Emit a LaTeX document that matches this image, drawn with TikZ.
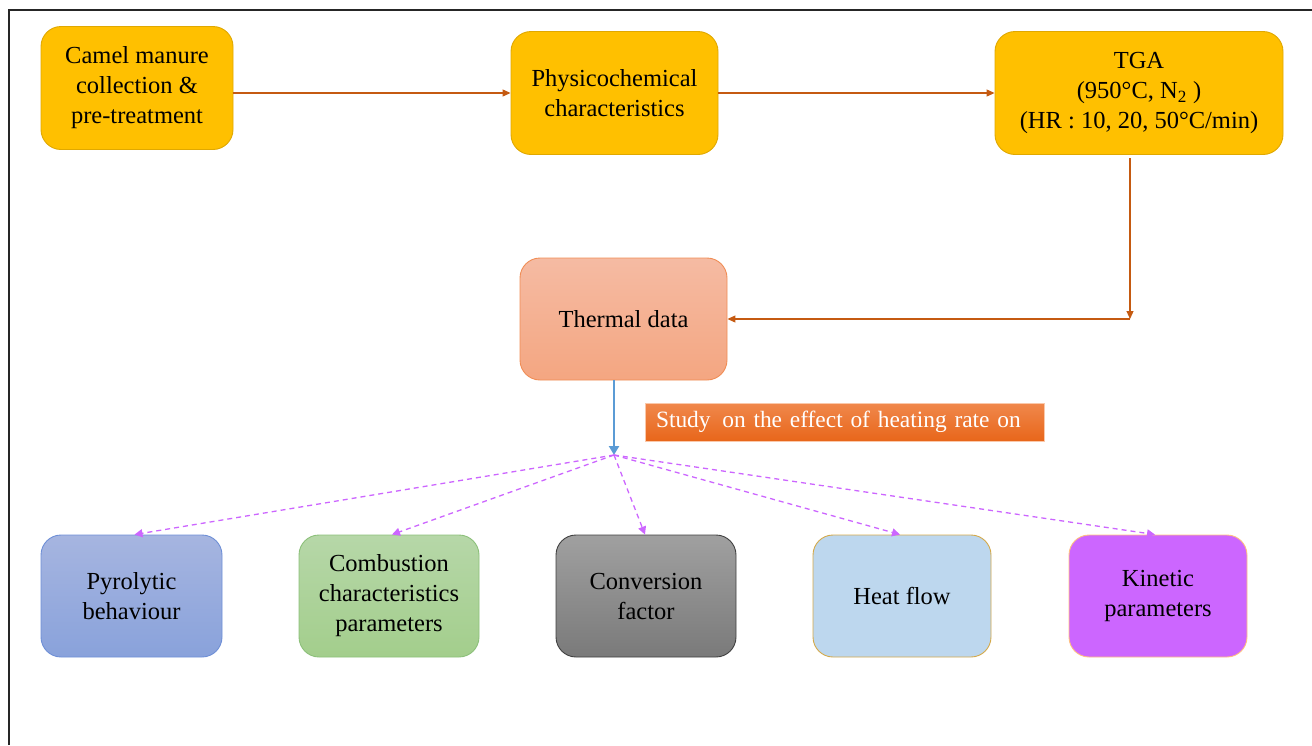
\documentclass[tikz,border=0pt]{standalone}
\usepackage{fontspec}
\setmainfont{Liberation Serif}
\usetikzlibrary{arrows.meta,positioning}
\definecolor{boxyellow}{HTML}{FFC000}
\definecolor{yellowline}{HTML}{E0A800}
\definecolor{arrorange}{HTML}{C55A11}
\definecolor{arrblue}{HTML}{5B9BD5}
\definecolor{violet}{HTML}{CC66FF}
\tikzset{
  every node/.style={font=\fontsize{24.5}{30}\selectfont, align=center},
  card/.style={rectangle, rounded corners=20pt, inner sep=0pt, line width=0.9pt},
  topbox/.style={card, fill=boxyellow, draw=yellowline},
  flow/.style={draw=arrorange, line width=1.1pt, -{Triangle[length=8pt,width=7pt]}},
  flowplain/.style={draw=arrorange, line width=1.1pt},
  fan/.style={draw=violet, line width=1.3pt, dash pattern=on 5pt off 4pt, -{Triangle[length=8pt,width=8pt]}},
}
\begin{document}
\begin{tikzpicture}[x=1pt,y=-1pt]
\useasboundingbox (0,0) rectangle (1312,745);
\draw[line width=1.6pt, black!85] (9,745) -- (9,10) -- (1312,10);

\node[topbox, minimum width=192pt, minimum height=123pt] (camel) at (137,88) {Camel manure\\collection \&\\pre-treatment};
\node[topbox, minimum width=207pt, minimum height=123pt] (phys) at (614.5,93) {Physicochemical\\characteristics};
\node[topbox, minimum width=288pt, minimum height=123pt] (tga) at (1139,93) {TGA\\(950°C, N\textsubscript{2} )\\(HR : 10, 20, 50°C/min)};

\node[card, draw={rgb,255:red,240;green,141;blue,85}, top color={rgb,255:red,245;green,187;blue,163}, bottom color={rgb,255:red,244;green,166;blue,129}, minimum width=207pt, minimum height=122pt] (thermal) at (623.5,319) {Thermal data};

\node[rectangle, inner sep=0pt, draw={rgb,255:red,250;green,200;blue,170}, line width=0.6pt, top color={rgb,255:red,240;green,136;blue,76}, bottom color={rgb,255:red,232;green,102;blue,26}, text=white, font=\fontsize{23.4}{26}\selectfont, minimum width=399pt, minimum height=38pt, text width=377pt, align=left] (study) at (844.5,422) {Study\, on the effect of heating rate on};

\node[card, draw={rgb,255:red,110;green,143;blue,214}, top color={rgb,255:red,166;green,181;blue,224}, bottom color={rgb,255:red,137;green,162;blue,219}, minimum width=181pt, minimum height=122pt] (pyro) at (131.5,596) {Pyrolytic\\behaviour};
\node[card, draw={rgb,255:red,140;green,192;blue,122}, top color={rgb,255:red,182;green,215;blue,168}, bottom color={rgb,255:red,163;green,206;blue,140}, minimum width=180pt, minimum height=122pt] (comb) at (389,596) {Combustion\\characteristics\\parameters};
\node[card, draw={rgb,255:red,64;green,64;blue,64}, top color={rgb,255:red,160;green,160;blue,160}, bottom color={rgb,255:red,122;green,122;blue,122}, minimum width=180pt, minimum height=122pt] (conv) at (646,596) {Conversion\\factor};
\node[card, draw={rgb,255:red,212;green,169;blue,74}, fill={rgb,255:red,189;green,215;blue,238}, minimum width=178pt, minimum height=122pt] (heat) at (902,596) {Heat flow};
\node[card, draw={rgb,255:red,255;green,192;blue,128}, fill=violet, minimum width=178pt, minimum height=122pt] (kin) at (1158,596) {Kinetic\\parameters};

\draw[flow] (camel.east |- phys.west) -- (phys.west);
\draw[flow] (phys.east) -- (tga.west);
\coordinate (corner) at (1130,319);
\coordinate (tgafoot) at (1130,158);
\draw[flow] (tgafoot) -- (corner);
\draw[flowplain, -{Triangle[length=8pt,width=7pt]}] (corner) -- (thermal.east);

\coordinate (hub) at (614,455);
\draw[draw=arrblue, line width=2.8pt, -{Triangle[length=9pt,width=10pt]}] (thermal.south -| hub) -- (hub);

\draw[fan] (hub) -- ([xshift=3pt]pyro.north);
\draw[fan] (hub) -- ([xshift=3pt]comb.north);
\draw[fan] (hub) -- ([xshift=-1pt]conv.north);
\draw[fan] (hub) -- ([xshift=-2pt]heat.north);
\draw[fan] (hub) -- ([xshift=-3pt]kin.north);
\end{tikzpicture}
\end{document}
